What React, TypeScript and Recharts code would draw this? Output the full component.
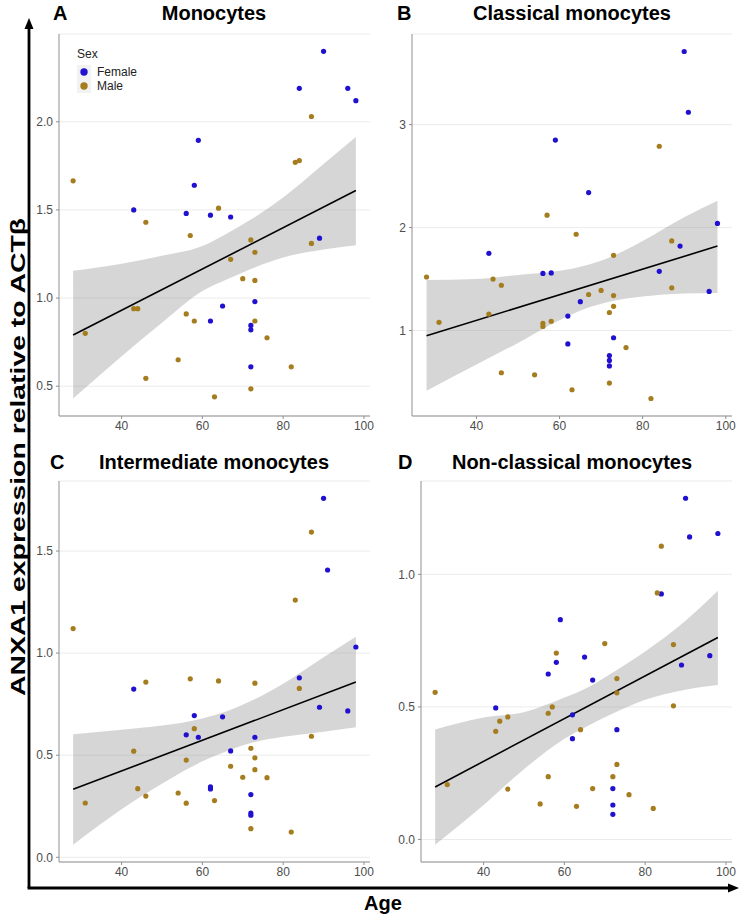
import React from 'react';
import {
  ComposedChart,
  Scatter,
  Line,
  Area,
  XAxis,
  YAxis,
  CartesianGrid
} from 'recharts';

// [age, value] pairs
const monoFemale = [[43, 1.5], [56, 1.48], [58, 1.64], [59, 1.895], [62, 1.47], [62, 0.87], [65, 0.955], [67, 1.46], [72, 0.845], [72, 0.82], [72, 0.61], [73, 0.98], [84, 2.19], [89, 1.34], [90, 2.4], [96, 2.19], [98, 2.12]];
const monoMale = [[28, 1.665], [31, 0.8], [43, 0.94], [44, 0.94], [46, 1.43], [46, 0.545], [54, 0.65], [56, 0.91], [57, 1.355], [58, 0.87], [63, 0.44], [64, 1.51], [67, 1.22], [70, 1.11], [72, 1.33], [72, 0.485], [73, 1.26], [73, 1.1], [73, 0.87], [76, 0.775], [82, 0.61], [83, 1.77], [84, 1.78], [87, 2.03], [87, 1.31]];

const classFemale = [[43, 1.75], [56, 1.555], [58, 1.56], [59, 2.85], [62, 1.14], [62, 0.87], [65, 1.28], [67, 2.34], [72, 0.757], [72, 0.71], [72, 0.656], [73, 0.93], [84, 1.575], [89, 1.82], [90, 3.71], [91, 3.12], [96, 1.38], [98, 2.04]];
const classMale = [[28, 1.52], [31, 1.08], [43, 1.16], [44, 1.5], [46, 1.44], [46, 0.59], [54, 0.57], [56, 1.07], [56, 1.04], [57, 2.12], [58, 1.09], [63, 0.425], [64, 1.935], [67, 1.35], [70, 1.39], [72, 1.175], [72, 0.49], [73, 1.73], [73, 1.34], [73, 1.235], [76, 0.835], [82, 0.34], [84, 2.79], [87, 1.87], [87, 1.415]];

const interFemale = [[43, 0.824], [56, 0.6], [58, 0.694], [59, 0.588], [62, 0.345], [62, 0.335], [65, 0.688], [67, 0.521], [72, 0.307], [72, 0.217], [72, 0.206], [73, 0.588], [84, 0.879], [89, 0.735], [90, 1.758], [91, 1.407], [96, 0.717], [98, 1.03]];
const interMale = [[28, 1.12], [31, 0.266], [43, 0.52], [44, 0.336], [46, 0.858], [46, 0.3], [54, 0.315], [56, 0.476], [56, 0.265], [57, 0.874], [58, 0.63], [63, 0.278], [64, 0.864], [67, 0.446], [70, 0.392], [72, 0.534], [72, 0.14], [73, 0.853], [73, 0.487], [73, 0.429], [76, 0.39], [82, 0.124], [83, 1.26], [84, 0.827], [87, 1.593], [87, 0.593]];

const nonFemale = [[43, 0.496], [56, 0.624], [58, 0.668], [59, 0.829], [62, 0.47], [62, 0.38], [65, 0.688], [67, 0.601], [72, 0.192], [72, 0.13], [72, 0.095], [73, 0.414], [84, 0.926], [89, 0.658], [90, 1.287], [91, 1.141], [96, 0.693], [98, 1.154]];
const nonMale = [[28, 0.555], [31, 0.207], [43, 0.408], [44, 0.446], [46, 0.462], [46, 0.19], [54, 0.134], [56, 0.476], [56, 0.237], [57, 0.5], [58, 0.703], [63, 0.125], [64, 0.414], [67, 0.192], [70, 0.739], [72, 0.237], [73, 0.607], [73, 0.553], [73, 0.283], [76, 0.169], [82, 0.117], [83, 0.93], [84, 1.106], [87, 0.735], [87, 0.504]];

// fitted line ends and confidence band edges
const fitAges = [28, 98];
const monoFit = [0.79, 1.61];
const classFit = [0.95, 1.82];
const interFit = [0.333, 0.858];
const nonFit = [0.198, 0.762];

const bandAges = [28, 40, 50, 60, 66, 72, 80, 90, 98];
const monoLo = [0.43, 0.67, 0.86, 1.04, 1.105, 1.165, 1.23, 1.275, 1.3];
const monoHi = [1.155, 1.195, 1.24, 1.295, 1.365, 1.445, 1.57, 1.76, 1.914];
const classLo = [0.415, 0.67, 0.88, 1.1, 1.21, 1.28, 1.33, 1.36, 1.364];
const classHi = [1.49, 1.5, 1.54, 1.58, 1.63, 1.71, 1.87, 2.1, 2.26];
const interLo = [0.062, 0.235, 0.36, 0.47, 0.52, 0.56, 0.59, 0.615, 0.637];
const interHi = [0.603, 0.625, 0.645, 0.68, 0.715, 0.765, 0.85, 0.98, 1.08];
const nonLo = [-0.02, 0.13, 0.265, 0.38, 0.43, 0.475, 0.527, 0.565, 0.583];
const nonHi = [0.415, 0.46, 0.48, 0.535, 0.575, 0.63, 0.709, 0.825, 0.938];

const xTicks = [40, 60, 80, 100];
const sexes = ['Female', 'Male'];

const FEMALE = '#2010cf';
const MALE = '#a57c1e';
const FRAME = '#8f8f8f';
const FONT = '"Liberation Sans", Arial, sans-serif';

const toPoints = (pairs: number[][]) => pairs.map(([age, value]) => ({ age, value }));
const toFit = (vals: number[]) => fitAges.map((age, i) => ({ age, fit: vals[i] }));
const toBand = (lo: number[], hi: number[]) => bandAges.map((age, i) => ({ age, range: [lo[i], hi[i]] }));

interface PanelProps {
  left: number;
  top: number;
  yWidth: number;
  plotW: number;
  plotH: number;
  rightPad: number;
  domain: [number, number];
  ticks: number[];
  digits: number;
  female: number[][];
  male: number[][];
  fit: number[];
  lo: number[];
  hi: number[];
}

function Panel(p: PanelProps) {
  const topPad = 6;
  const xH = 24;
  const dot = (color: string) => (props: any) =>
    <circle cx={props.cx} cy={props.cy} r={2.6} fill={color} />;
  const tickStyle = { fontSize: 12, fill: '#4d4d4d', fontFamily: FONT };
  return (
    <div style={{ position: 'absolute', left: p.left, top: p.top - topPad }}>
      <ComposedChart
        width={p.yWidth + p.plotW + p.rightPad}
        height={topPad + p.plotH + xH}
        margin={{ top: topPad, right: p.rightPad, bottom: 0, left: 0 }}
      >
        <CartesianGrid vertical={false} stroke="#ebebeb" strokeWidth={1} />
        <XAxis
          dataKey="age"
          type="number"
          domain={[24.5, 101.5]}
          ticks={xTicks}
          allowDataOverflow
          height={xH}
          tickSize={3}
          tickMargin={2}
          stroke={FRAME}
          tick={tickStyle}
        />
        <XAxis xAxisId="top" orientation="top" type="number" domain={[24.5, 101.5]} tick={false} tickLine={false} height={0} stroke={FRAME} />
        <YAxis
          type="number"
          domain={p.domain}
          ticks={p.ticks}
          allowDataOverflow
          width={p.yWidth}
          tickSize={3}
          tickMargin={3}
          stroke={FRAME}
          tick={tickStyle}
          tickFormatter={(v: number) => v.toFixed(p.digits)}
        />
        <YAxis yAxisId="right" orientation="right" type="number" domain={p.domain} tick={false} tickLine={false} width={0} stroke={FRAME} />
        <Area
          data={toBand(p.lo, p.hi)}
          dataKey="range"
          type="monotone"
          stroke="none"
          fill="#999999"
          fillOpacity={0.4}
          isAnimationActive={false}
        />
        <Line
          data={toFit(p.fit)}
          dataKey="fit"
          type="linear"
          stroke="#000"
          strokeWidth={1.6}
          dot={false}
          isAnimationActive={false}
        />
        <Scatter data={toPoints(p.female)} dataKey="value" shape={dot(FEMALE)} isAnimationActive={false} />
        <Scatter data={toPoints(p.male)} dataKey="value" shape={dot(MALE)} isAnimationActive={false} />
      </ComposedChart>
    </div>
  );
}

export default function App() {
  const title = { fontFamily: FONT, fontWeight: 700, fontSize: 20, fill: '#000' };
  return (
    <div style={{ position: 'absolute', left: 0, top: 0, width: 742, height: 920, background: '#fff', fontFamily: FONT }}>
      <Panel left={19} top={34} yWidth={40} plotW={311} plotH={382} rightPad={14}
        domain={[0.331, 2.498]} ticks={[0.5, 1, 1.5, 2]} digits={1}
        female={monoFemale} male={monoMale} fit={monoFit} lo={monoLo} hi={monoHi} />
      <Panel left={382} top={34} yWidth={30} plotW={320} plotH={382} rightPad={8}
        domain={[0.17, 3.88]} ticks={[1, 2, 3]} digits={0}
        female={classFemale} male={classMale} fit={classFit} lo={classLo} hi={classHi} />
      <Panel left={19} top={481} yWidth={40} plotW={311} plotH={381} rightPad={14}
        domain={[-0.023, 1.843]} ticks={[0, 0.5, 1, 1.5]} digits={1}
        female={interFemale} male={interMale} fit={interFit} lo={interLo} hi={interHi} />
      <Panel left={385} top={481} yWidth={36} plotW={311} plotH={381} rightPad={8}
        domain={[-0.085, 1.352]} ticks={[0, 0.5, 1]} digits={1}
        female={nonFemale} male={nonMale} fit={nonFit} lo={nonLo} hi={nonHi} />

      <svg width={742} height={920} style={{ position: 'absolute', left: 0, top: 0, pointerEvents: 'none' }}>
        {/* outer axes with arrows */}
        <line x1={29} y1={26} x2={29} y2={888} stroke="#000" strokeWidth={2.8} />
        <polygon points="29,18 24.5,29 33.5,29" fill="#000" />
        <line x1={27.6} y1={888} x2={731} y2={888} stroke="#000" strokeWidth={2.8} />
        <polygon points="739,888 728,883.5 728,892.5" fill="#000" />
        <text x={17} y={457} transform="rotate(-90 17 457)" textAnchor="middle" dominantBaseline="central"
          textLength={478} lengthAdjust="spacingAndGlyphs"
          style={{ ...title, fontSize: 21 }}>ANXA1 expression relative to ACTβ</text>
        <text x={383} y={910} textAnchor="middle" style={title}>Age</text>

        {/* panel letters and titles */}
        <text x={53} y={20} style={title}>A</text>
        <text x={214} y={20} textAnchor="middle" style={title}>Monocytes</text>
        <text x={397} y={20} style={title}>B</text>
        <text x={572} y={20} textAnchor="middle" style={title}>Classical monocytes</text>
        <text x={50} y={469} style={title}>C</text>
        <text x={214} y={469} textAnchor="middle" style={title}>Intermediate monocytes</text>
        <text x={398} y={469} style={title}>D</text>
        <text x={572} y={469} textAnchor="middle" style={title}>Non-classical monocytes</text>

        {/* legend */}
        <text x={77} y={58} style={{ fontFamily: FONT, fontSize: 12, fill: '#222' }}>Sex</text>
        {sexes.map((s, i) => (
          <g key={s}>
            <rect x={77} y={65 + i * 14} width={14} height={14} fill="#f2f2f2" />
            <circle cx={84} cy={72 + i * 14} r={3.7} fill={s === 'Female' ? FEMALE : MALE} />
            <text x={97} y={76 + i * 14} style={{ fontFamily: FONT, fontSize: 12, fill: '#222' }}>{s}</text>
          </g>
        ))}
      </svg>
    </div>
  );
}
